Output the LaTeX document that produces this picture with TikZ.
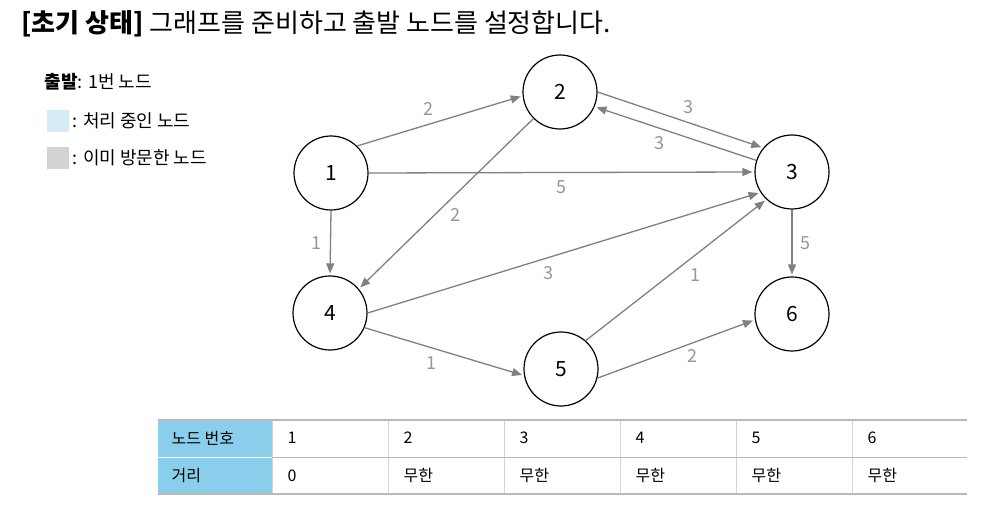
\documentclass[tikz,border=0pt]{standalone}
\usepackage{fontspec}
\setmainfont{Noto Sans CJK KR}
\usetikzlibrary{arrows.meta}
\definecolor{edgegray}{RGB}{128,128,128}
\definecolor{labelgray}{RGB}{150,150,150}
\definecolor{procblue}{RGB}{214,235,248}
\definecolor{visitgray}{RGB}{211,211,211}
\definecolor{headblue}{RGB}{137,206,234}
\definecolor{rulegray}{RGB}{185,185,185}
\tikzset{
  vertex/.style={circle, draw=black, line width=1.2pt, minimum size=74pt, inner sep=0pt, font=\fontsize{21}{24}\selectfont},
  edge/.style={->, draw=edgegray, line width=1.3pt, shorten >=2pt},
  wlabel/.style={text=labelgray, inner sep=8pt, font=\fontsize{18}{20}\selectfont},
  legendtext/.style={anchor=west, font=\fontsize{18}{20}\selectfont},
  cell/.style={anchor=west, font=\fontsize{16}{20}\selectfont},
}

\begin{document}
\begin{tikzpicture}[x=1pt, y=-1pt, >={Triangle[length=10pt, width=8pt]}]
    \useasboundingbox (0,0) rectangle (985,505);
    % 제목
    \node[anchor=west, font=\fontsize{26}{30}\selectfont] (title) at (18,24) {\textbf{[초기 상태]} 그래프를 준비하고 출발 노드를 설정합니다.};
    % 범례
    \node[legendtext] (start) at (41,82) {\textbf{출발}: 1번 노드};
    \node[fill=procblue, minimum size=22pt, inner sep=0pt] (procbox) at (58,121) {};
    \node[legendtext] (proctext) at (procbox.east) {: 처리 중인 노드};
    \node[fill=visitgray, minimum size=22pt, inner sep=0pt] (visitbox) at (58,158) {};
    \node[legendtext] (visittext) at (visitbox.east) {: 이미 방문한 노드};
    % 노드
    \node[vertex] (n1) at (331,173) {1};
    \node[vertex] (n2) at (560,92) {2};
    \node[vertex] (n3) at (792,172) {3};
    \node[vertex] (n4) at (330,313) {4};
    \node[vertex] (n5) at (561,369) {5};
    \node[vertex] (n6) at (792,314) {6};
    % 간선
    \draw[edge] (n1.46) -- (n2.186) node[pos=0.43, above, wlabel] {2};
    \draw[edge] (n1.east) -- (n3.west) node[midway, below, wlabel] {5};
    \draw[edge] (n1.south) -- (n4.north) node[midway, left, wlabel] {1};
    \draw[edge] (n2.east) -- (n3.140) node[pos=0.55, above, wlabel] {3};
    \draw[edge] (n3.162) -- (n2.-23) node[pos=0.6, below, wlabel] {3};
    \draw[edge] (n2.225) -- (n4.40) node[midway, below right, wlabel, inner sep=4pt] {2};
    \draw[edge] (n4.east) -- (n3.213) node[pos=0.46, below, wlabel] {3};
    \draw[edge] (n4.-23) -- (n5.190) node[pos=0.42, below, wlabel] {1};
    \draw[edge] (n5.49) -- (n3.227) node[pos=0.55, below right, wlabel, inner sep=5pt] {1};
    \draw[edge] (n5.-14) -- (n6.189) node[pos=0.55, below right, wlabel, inner sep=3pt] {2};
    \draw[edge] (n3.south) -- (n6.north) node[midway, right, wlabel] {5};
    % 거리 테이블
    \fill[headblue] (158,420) rectangle (272,494);
    \draw[white, line width=1pt] (158,457) -- (272,457);
    \draw[rulegray!60, line width=0.8pt] (272,420) -- (272,494) (388,420) -- (388,494) (504,420) -- (504,494)
        (620,420) -- (620,494) (736,420) -- (736,494) (852,420) -- (852,494);
    \draw[rulegray, line width=0.8pt] (272,457) -- (967,457);
    \draw[rulegray, line width=1.8pt] (158,420) -- (967,420) (158,494) -- (967,494);
    \node[cell] (h1) at (168,438) {노드 번호};
    \node[cell] (h2) at (168,476) {거리};
    \node[cell] (k1) at (284,438) {1};
    \node[cell] (k2) at (400,438) {2};
    \node[cell] (k3) at (516,438) {3};
    \node[cell] (k4) at (632,438) {4};
    \node[cell] (k5) at (748,438) {5};
    \node[cell] (k6) at (864,438) {6};
    \node[cell] (d1) at (284,476) {0};
    \node[cell] (d2) at (400,476) {무한};
    \node[cell] (d3) at (516,476) {무한};
    \node[cell] (d4) at (632,476) {무한};
    \node[cell] (d5) at (748,476) {무한};
    \node[cell] (d6) at (864,476) {무한};
\end{tikzpicture}
\end{document}
